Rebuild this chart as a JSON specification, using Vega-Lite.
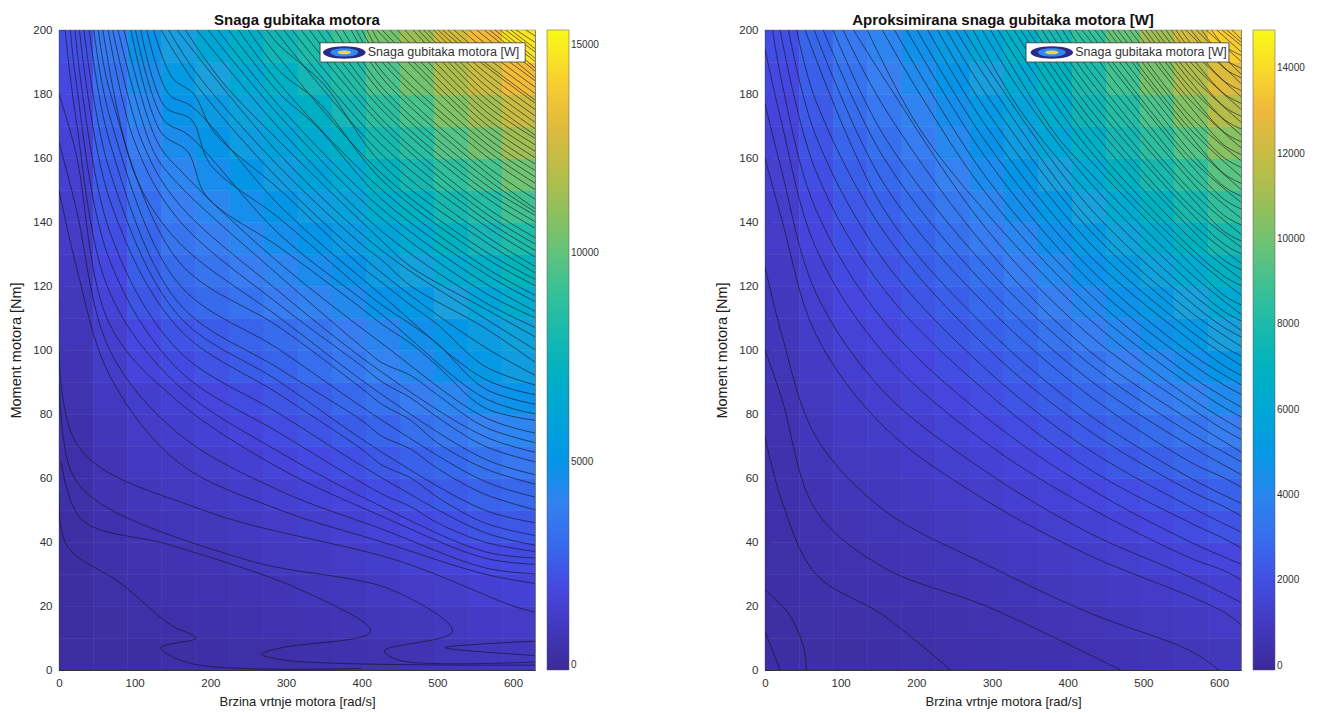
{"$schema":"https://vega.github.io/schema/vega-lite/v6.json","padding":{"left":8,"top":12,"right":0,"bottom":0},"background":"white","spacing":114,"resolve":{"scale":{"color":"independent"}},
"config":{"font":"Liberation Sans","view":{"stroke":"#333333","strokeWidth":0.8},"axis":{"grid":false,"tickSize":-5,"labelFlush":false,"tickColor":"#222222","domainColor":"#333333","labelColor":"#303030","titleColor":"#202020","labelFontSize":11.5,"titleFontWeight":"normal","labelFont":"Liberation Sans","titleFont":"Liberation Sans","zindex":1},"axisX":{"labelPadding":12,"titleFontSize":13,"titlePadding":7},"axisY":{"labelPadding":12,"titleFontSize":14.5,"titlePadding":9},"legend":{"gradientLength":640,"gradientThickness":22,"labelFontSize":10,"labelColor":"#303030","title":null,"offset":12,"gradientStrokeColor":"#555555","gradientStrokeWidth":0.5,"labelOverlap":false,"labelFont":"Liberation Sans","padding":0},"title":{"fontSize":15,"fontWeight":"bold","offset":-4,"font":"Liberation Sans","color":"#111111"}},
"datasets":{
"leftCells":[
{"x":22.5,"y":5,"v":210},{"x":22.5,"y":15,"v":230},{"x":22.5,"y":25,"v":270},{"x":22.5,"y":35,"v":310},{"x":22.5,"y":45,"v":350},{"x":22.5,"y":55,"v":410},{"x":22.5,"y":65,"v":470},{"x":22.5,"y":75,"v":540},{"x":22.5,"y":85,"v":620},{"x":22.5,"y":95,"v":710},{"x":22.5,"y":105,"v":880},{"x":22.5,"y":115,"v":990},{"x":22.5,"y":125,"v":1110},{"x":22.5,"y":135,"v":1240},{"x":22.5,"y":145,"v":1370},{"x":22.5,"y":155,"v":1510},{"x":22.5,"y":165,"v":1670},{"x":22.5,"y":175,"v":1830},{"x":22.5,"y":185,"v":2000},{"x":22.5,"y":195,"v":2170},
{"x":67.5,"y":5,"v":270},{"x":67.5,"y":15,"v":340},{"x":67.5,"y":25,"v":420},{"x":67.5,"y":35,"v":500},{"x":67.5,"y":45,"v":600},{"x":67.5,"y":55,"v":710},{"x":67.5,"y":65,"v":820},{"x":67.5,"y":75,"v":950},{"x":67.5,"y":85,"v":1080},{"x":67.5,"y":95,"v":1310},{"x":67.5,"y":105,"v":1460},{"x":67.5,"y":115,"v":1740},{"x":67.5,"y":125,"v":1930},{"x":67.5,"y":135,"v":2130},{"x":67.5,"y":145,"v":2350},{"x":67.5,"y":155,"v":2570},{"x":67.5,"y":165,"v":2800},{"x":67.5,"y":175,"v":3050},{"x":67.5,"y":185,"v":3300},{"x":67.5,"y":195,"v":3570},
{"x":112.5,"y":5,"v":310},{"x":112.5,"y":15,"v":410},{"x":112.5,"y":25,"v":530},{"x":112.5,"y":35,"v":650},{"x":112.5,"y":45,"v":790},{"x":112.5,"y":55,"v":930},{"x":112.5,"y":65,"v":1090},{"x":112.5,"y":75,"v":1260},{"x":112.5,"y":85,"v":1430},{"x":112.5,"y":95,"v":1790},{"x":112.5,"y":105,"v":1960},{"x":112.5,"y":115,"v":2370},{"x":112.5,"y":125,"v":2630},{"x":112.5,"y":135,"v":2900},{"x":112.5,"y":145,"v":3180},{"x":112.5,"y":155,"v":3470},{"x":112.5,"y":165,"v":3780},{"x":112.5,"y":175,"v":4100},{"x":112.5,"y":185,"v":4430},{"x":112.5,"y":195,"v":4770},
{"x":157.5,"y":5,"v":340},{"x":157.5,"y":15,"v":460},{"x":157.5,"y":25,"v":590},{"x":157.5,"y":35,"v":730},{"x":157.5,"y":45,"v":880},{"x":157.5,"y":55,"v":1050},{"x":157.5,"y":65,"v":1230},{"x":157.5,"y":75,"v":1420},{"x":157.5,"y":85,"v":1620},{"x":157.5,"y":95,"v":2020},{"x":157.5,"y":105,"v":2330},{"x":157.5,"y":115,"v":2790},{"x":157.5,"y":125,"v":3090},{"x":157.5,"y":135,"v":3410},{"x":157.5,"y":145,"v":3750},{"x":157.5,"y":155,"v":4090},{"x":157.5,"y":165,"v":4460},{"x":157.5,"y":175,"v":4840},{"x":157.5,"y":185,"v":5230},{"x":157.5,"y":195,"v":5640},
{"x":202.5,"y":5,"v":380},{"x":202.5,"y":15,"v":510},{"x":202.5,"y":25,"v":660},{"x":202.5,"y":35,"v":820},{"x":202.5,"y":45,"v":990},{"x":202.5,"y":55,"v":1180},{"x":202.5,"y":65,"v":1390},{"x":202.5,"y":75,"v":1610},{"x":202.5,"y":85,"v":1840},{"x":202.5,"y":95,"v":2280},{"x":202.5,"y":105,"v":2550},{"x":202.5,"y":115,"v":3060},{"x":202.5,"y":125,"v":3400},{"x":202.5,"y":135,"v":3760},{"x":202.5,"y":145,"v":4130},{"x":202.5,"y":155,"v":4520},{"x":202.5,"y":165,"v":4930},{"x":202.5,"y":175,"v":5350},{"x":202.5,"y":185,"v":5790},{"x":202.5,"y":195,"v":6240},
{"x":247.5,"y":5,"v":420},{"x":247.5,"y":15,"v":570},{"x":247.5,"y":25,"v":730},{"x":247.5,"y":35,"v":920},{"x":247.5,"y":45,"v":1110},{"x":247.5,"y":55,"v":1330},{"x":247.5,"y":65,"v":1560},{"x":247.5,"y":75,"v":1820},{"x":247.5,"y":85,"v":2080},{"x":247.5,"y":95,"v":2570},{"x":247.5,"y":105,"v":2800},{"x":247.5,"y":115,"v":3360},{"x":247.5,"y":125,"v":3740},{"x":247.5,"y":135,"v":4130},{"x":247.5,"y":145,"v":4550},{"x":247.5,"y":155,"v":4980},{"x":247.5,"y":165,"v":5440},{"x":247.5,"y":175,"v":5910},{"x":247.5,"y":185,"v":6400},{"x":247.5,"y":195,"v":6910},
{"x":292.5,"y":5,"v":470},{"x":292.5,"y":15,"v":640},{"x":292.5,"y":25,"v":820},{"x":292.5,"y":35,"v":1030},{"x":292.5,"y":45,"v":1250},{"x":292.5,"y":55,"v":1500},{"x":292.5,"y":65,"v":1760},{"x":292.5,"y":75,"v":2050},{"x":292.5,"y":85,"v":2350},{"x":292.5,"y":95,"v":2850},{"x":292.5,"y":105,"v":3110},{"x":292.5,"y":115,"v":3670},{"x":292.5,"y":125,"v":4090},{"x":292.5,"y":135,"v":4530},{"x":292.5,"y":145,"v":4990},{"x":292.5,"y":155,"v":5480},{"x":292.5,"y":165,"v":5980},{"x":292.5,"y":175,"v":6510},{"x":292.5,"y":185,"v":7060},{"x":292.5,"y":195,"v":7630},
{"x":337.5,"y":5,"v":530},{"x":337.5,"y":15,"v":710},{"x":337.5,"y":25,"v":920},{"x":337.5,"y":35,"v":1150},{"x":337.5,"y":45,"v":1400},{"x":337.5,"y":55,"v":1680},{"x":337.5,"y":65,"v":1980},{"x":337.5,"y":75,"v":2300},{"x":337.5,"y":85,"v":2650},{"x":337.5,"y":95,"v":3170},{"x":337.5,"y":105,"v":3410},{"x":337.5,"y":115,"v":4000},{"x":337.5,"y":125,"v":4460},{"x":337.5,"y":135,"v":4950},{"x":337.5,"y":145,"v":5460},{"x":337.5,"y":155,"v":6000},{"x":337.5,"y":165,"v":6560},{"x":337.5,"y":175,"v":7140},{"x":337.5,"y":185,"v":7760},{"x":337.5,"y":195,"v":8390},
{"x":382.5,"y":5,"v":600},{"x":382.5,"y":15,"v":800},{"x":382.5,"y":25,"v":1020},{"x":382.5,"y":35,"v":1280},{"x":382.5,"y":45,"v":1560},{"x":382.5,"y":55,"v":1870},{"x":382.5,"y":65,"v":2210},{"x":382.5,"y":75,"v":2580},{"x":382.5,"y":85,"v":2970},{"x":382.5,"y":95,"v":3520},{"x":382.5,"y":105,"v":3720},{"x":382.5,"y":115,"v":4330},{"x":382.5,"y":125,"v":4830},{"x":382.5,"y":135,"v":5370},{"x":382.5,"y":145,"v":5930},{"x":382.5,"y":155,"v":6520},{"x":382.5,"y":165,"v":7140},{"x":382.5,"y":175,"v":7790},{"x":382.5,"y":185,"v":8470},{"x":382.5,"y":195,"v":9170},
{"x":427.5,"y":5,"v":670},{"x":427.5,"y":15,"v":890},{"x":427.5,"y":25,"v":1140},{"x":427.5,"y":35,"v":1420},{"x":427.5,"y":45,"v":1730},{"x":427.5,"y":55,"v":2080},{"x":427.5,"y":65,"v":2460},{"x":427.5,"y":75,"v":2880},{"x":427.5,"y":85,"v":3320},{"x":427.5,"y":95,"v":3950},{"x":427.5,"y":105,"v":4160},{"x":427.5,"y":115,"v":4860},{"x":427.5,"y":125,"v":5430},{"x":427.5,"y":135,"v":6040},{"x":427.5,"y":145,"v":6690},{"x":427.5,"y":155,"v":7360},{"x":427.5,"y":165,"v":8070},{"x":427.5,"y":175,"v":8810},{"x":427.5,"y":185,"v":9590},{"x":427.5,"y":195,"v":10400},
{"x":472.5,"y":5,"v":750},{"x":472.5,"y":15,"v":990},{"x":472.5,"y":25,"v":1260},{"x":472.5,"y":35,"v":1570},{"x":472.5,"y":45,"v":1920},{"x":472.5,"y":55,"v":2310},{"x":472.5,"y":65,"v":2730},{"x":472.5,"y":75,"v":3200},{"x":472.5,"y":85,"v":3700},{"x":472.5,"y":95,"v":4240},{"x":472.5,"y":105,"v":4610},{"x":472.5,"y":115,"v":5200},{"x":472.5,"y":125,"v":5830},{"x":472.5,"y":135,"v":6490},{"x":472.5,"y":145,"v":7190},{"x":472.5,"y":155,"v":7930},{"x":472.5,"y":165,"v":8700},{"x":472.5,"y":175,"v":9510},{"x":472.5,"y":185,"v":10360},{"x":472.5,"y":195,"v":11240},
{"x":517.5,"y":5,"v":840},{"x":517.5,"y":15,"v":1100},{"x":517.5,"y":25,"v":1390},{"x":517.5,"y":35,"v":1730},{"x":517.5,"y":45,"v":2120},{"x":517.5,"y":55,"v":2550},{"x":517.5,"y":65,"v":3020},{"x":517.5,"y":75,"v":3540},{"x":517.5,"y":85,"v":4100},{"x":517.5,"y":95,"v":4700},{"x":517.5,"y":105,"v":5130},{"x":517.5,"y":115,"v":5790},{"x":517.5,"y":125,"v":6500},{"x":517.5,"y":135,"v":7250},{"x":517.5,"y":145,"v":8040},{"x":517.5,"y":155,"v":8870},{"x":517.5,"y":165,"v":9740},{"x":517.5,"y":175,"v":10660},{"x":517.5,"y":185,"v":11620},{"x":517.5,"y":195,"v":12620},
{"x":562.5,"y":5,"v":940},{"x":562.5,"y":15,"v":1210},{"x":562.5,"y":25,"v":1540},{"x":562.5,"y":35,"v":1910},{"x":562.5,"y":45,"v":2330},{"x":562.5,"y":55,"v":2810},{"x":562.5,"y":65,"v":3330},{"x":562.5,"y":75,"v":3900},{"x":562.5,"y":85,"v":4530},{"x":562.5,"y":95,"v":5200},{"x":562.5,"y":105,"v":5430},{"x":562.5,"y":115,"v":6140},{"x":562.5,"y":125,"v":6900},{"x":562.5,"y":135,"v":7700},{"x":562.5,"y":145,"v":8550},{"x":562.5,"y":155,"v":9450},{"x":562.5,"y":165,"v":10390},{"x":562.5,"y":175,"v":11380},{"x":562.5,"y":185,"v":12410},{"x":562.5,"y":195,"v":13490},
{"x":607.5,"y":5,"v":1000},{"x":607.5,"y":15,"v":1280},{"x":607.5,"y":25,"v":1620},{"x":607.5,"y":35,"v":2010},{"x":607.5,"y":45,"v":2450},{"x":607.5,"y":55,"v":2950},{"x":607.5,"y":65,"v":3500},{"x":607.5,"y":75,"v":4110},{"x":607.5,"y":85,"v":4780},{"x":607.5,"y":95,"v":5490},{"x":607.5,"y":105,"v":5890},{"x":607.5,"y":115,"v":6660},{"x":607.5,"y":125,"v":7490},{"x":607.5,"y":135,"v":8370},{"x":607.5,"y":145,"v":9310},{"x":607.5,"y":155,"v":10290},{"x":607.5,"y":165,"v":11320},{"x":607.5,"y":175,"v":12410},{"x":607.5,"y":185,"v":13550},{"x":607.5,"y":195,"v":14740}],
"rightCells":[
{"x":22.5,"y":5,"v":210},{"x":22.5,"y":15,"v":234},{"x":22.5,"y":25,"v":267},{"x":22.5,"y":35,"v":307},{"x":22.5,"y":45,"v":354},{"x":22.5,"y":55,"v":410},{"x":22.5,"y":65,"v":473},{"x":22.5,"y":75,"v":542},{"x":22.5,"y":85,"v":621},{"x":22.5,"y":95,"v":706},{"x":22.5,"y":105,"v":799},{"x":22.5,"y":115,"v":900},{"x":22.5,"y":125,"v":1008},{"x":22.5,"y":135,"v":1123},{"x":22.5,"y":145,"v":1246},{"x":22.5,"y":155,"v":1377},{"x":22.5,"y":165,"v":1515},{"x":22.5,"y":175,"v":1662},{"x":22.5,"y":185,"v":1815},{"x":22.5,"y":195,"v":1975},
{"x":67.5,"y":5,"v":234},{"x":67.5,"y":15,"v":294},{"x":67.5,"y":25,"v":362},{"x":67.5,"y":35,"v":439},{"x":67.5,"y":45,"v":523},{"x":67.5,"y":55,"v":615},{"x":67.5,"y":65,"v":715},{"x":67.5,"y":75,"v":824},{"x":67.5,"y":85,"v":940},{"x":67.5,"y":95,"v":1064},{"x":67.5,"y":105,"v":1196},{"x":67.5,"y":115,"v":1336},{"x":67.5,"y":125,"v":1485},{"x":67.5,"y":135,"v":1641},{"x":67.5,"y":145,"v":1804},{"x":67.5,"y":155,"v":1976},{"x":67.5,"y":165,"v":2156},{"x":67.5,"y":175,"v":2345},{"x":67.5,"y":185,"v":2541},{"x":67.5,"y":195,"v":2745},
{"x":112.5,"y":5,"v":258},{"x":112.5,"y":15,"v":345},{"x":112.5,"y":25,"v":440},{"x":112.5,"y":35,"v":543},{"x":112.5,"y":45,"v":656},{"x":112.5,"y":55,"v":777},{"x":112.5,"y":65,"v":907},{"x":112.5,"y":75,"v":1047},{"x":112.5,"y":85,"v":1195},{"x":112.5,"y":95,"v":1351},{"x":112.5,"y":105,"v":1517},{"x":112.5,"y":115,"v":1692},{"x":112.5,"y":125,"v":1875},{"x":112.5,"y":135,"v":2068},{"x":112.5,"y":145,"v":2269},{"x":112.5,"y":155,"v":2479},{"x":112.5,"y":165,"v":2698},{"x":112.5,"y":175,"v":2926},{"x":112.5,"y":185,"v":3163},{"x":112.5,"y":195,"v":3408},
{"x":157.5,"y":5,"v":283},{"x":157.5,"y":15,"v":381},{"x":157.5,"y":25,"v":490},{"x":157.5,"y":35,"v":607},{"x":157.5,"y":45,"v":736},{"x":157.5,"y":55,"v":875},{"x":157.5,"y":65,"v":1024},{"x":157.5,"y":75,"v":1184},{"x":157.5,"y":85,"v":1352},{"x":157.5,"y":95,"v":1532},{"x":157.5,"y":105,"v":1722},{"x":157.5,"y":115,"v":1922},{"x":157.5,"y":125,"v":2133},{"x":157.5,"y":135,"v":2352},{"x":157.5,"y":145,"v":2583},{"x":157.5,"y":155,"v":2824},{"x":157.5,"y":165,"v":3075},{"x":157.5,"y":175,"v":3337},{"x":157.5,"y":185,"v":3607},{"x":157.5,"y":195,"v":3889},
{"x":202.5,"y":5,"v":314},{"x":202.5,"y":15,"v":424},{"x":202.5,"y":25,"v":547},{"x":202.5,"y":35,"v":681},{"x":202.5,"y":45,"v":828},{"x":202.5,"y":55,"v":986},{"x":202.5,"y":65,"v":1157},{"x":202.5,"y":75,"v":1339},{"x":202.5,"y":85,"v":1533},{"x":202.5,"y":95,"v":1740},{"x":202.5,"y":105,"v":1957},{"x":202.5,"y":115,"v":2188},{"x":202.5,"y":125,"v":2430},{"x":202.5,"y":135,"v":2684},{"x":202.5,"y":145,"v":2950},{"x":202.5,"y":155,"v":3228},{"x":202.5,"y":165,"v":3518},{"x":202.5,"y":175,"v":3820},{"x":202.5,"y":185,"v":4134},{"x":202.5,"y":195,"v":4460},
{"x":247.5,"y":5,"v":350},{"x":247.5,"y":15,"v":474},{"x":247.5,"y":25,"v":612},{"x":247.5,"y":35,"v":764},{"x":247.5,"y":45,"v":929},{"x":247.5,"y":55,"v":1110},{"x":247.5,"y":65,"v":1304},{"x":247.5,"y":75,"v":1513},{"x":247.5,"y":85,"v":1736},{"x":247.5,"y":95,"v":1972},{"x":247.5,"y":105,"v":2224},{"x":247.5,"y":115,"v":2489},{"x":247.5,"y":125,"v":2769},{"x":247.5,"y":135,"v":3062},{"x":247.5,"y":145,"v":3369},{"x":247.5,"y":155,"v":3692},{"x":247.5,"y":165,"v":4027},{"x":247.5,"y":175,"v":4378},{"x":247.5,"y":185,"v":4742},{"x":247.5,"y":195,"v":5120},
{"x":292.5,"y":5,"v":393},{"x":292.5,"y":15,"v":530},{"x":292.5,"y":25,"v":685},{"x":292.5,"y":35,"v":855},{"x":292.5,"y":45,"v":1042},{"x":292.5,"y":55,"v":1246},{"x":292.5,"y":65,"v":1467},{"x":292.5,"y":75,"v":1706},{"x":292.5,"y":85,"v":1960},{"x":292.5,"y":95,"v":2232},{"x":292.5,"y":105,"v":2520},{"x":292.5,"y":115,"v":2825},{"x":292.5,"y":125,"v":3147},{"x":292.5,"y":135,"v":3486},{"x":292.5,"y":145,"v":3841},{"x":292.5,"y":155,"v":4213},{"x":292.5,"y":165,"v":4602},{"x":292.5,"y":175,"v":5009},{"x":292.5,"y":185,"v":5432},{"x":292.5,"y":195,"v":5871},
{"x":337.5,"y":5,"v":443},{"x":337.5,"y":15,"v":594},{"x":337.5,"y":25,"v":765},{"x":337.5,"y":35,"v":956},{"x":337.5,"y":45,"v":1166},{"x":337.5,"y":55,"v":1397},{"x":337.5,"y":65,"v":1647},{"x":337.5,"y":75,"v":1918},{"x":337.5,"y":85,"v":2208},{"x":337.5,"y":95,"v":2518},{"x":337.5,"y":105,"v":2848},{"x":337.5,"y":115,"v":3198},{"x":337.5,"y":125,"v":3567},{"x":337.5,"y":135,"v":3957},{"x":337.5,"y":145,"v":4366},{"x":337.5,"y":155,"v":4796},{"x":337.5,"y":165,"v":5245},{"x":337.5,"y":175,"v":5714},{"x":337.5,"y":185,"v":6204},{"x":337.5,"y":195,"v":6713},
{"x":382.5,"y":5,"v":499},{"x":382.5,"y":15,"v":664},{"x":382.5,"y":25,"v":853},{"x":382.5,"y":35,"v":1064},{"x":382.5,"y":45,"v":1300},{"x":382.5,"y":55,"v":1559},{"x":382.5,"y":65,"v":1842},{"x":382.5,"y":75,"v":2148},{"x":382.5,"y":85,"v":2476},{"x":382.5,"y":95,"v":2829},{"x":382.5,"y":105,"v":3205},{"x":382.5,"y":115,"v":3605},{"x":382.5,"y":125,"v":4028},{"x":382.5,"y":135,"v":4473},{"x":382.5,"y":145,"v":4943},{"x":382.5,"y":155,"v":5436},{"x":382.5,"y":165,"v":5953},{"x":382.5,"y":175,"v":6493},{"x":382.5,"y":185,"v":7056},{"x":382.5,"y":195,"v":7643},
{"x":427.5,"y":5,"v":560},{"x":427.5,"y":15,"v":741},{"x":427.5,"y":25,"v":949},{"x":427.5,"y":35,"v":1183},{"x":427.5,"y":45,"v":1445},{"x":427.5,"y":55,"v":1734},{"x":427.5,"y":65,"v":2051},{"x":427.5,"y":75,"v":2396},{"x":427.5,"y":85,"v":2767},{"x":427.5,"y":95,"v":3167},{"x":427.5,"y":105,"v":3593},{"x":427.5,"y":115,"v":4047},{"x":427.5,"y":125,"v":4528},{"x":427.5,"y":135,"v":5036},{"x":427.5,"y":145,"v":5573},{"x":427.5,"y":155,"v":6136},{"x":427.5,"y":165,"v":6727},{"x":427.5,"y":175,"v":7345},{"x":427.5,"y":185,"v":7990},{"x":427.5,"y":195,"v":8664},
{"x":472.5,"y":5,"v":629},{"x":472.5,"y":15,"v":824},{"x":472.5,"y":25,"v":1051},{"x":472.5,"y":35,"v":1310},{"x":472.5,"y":45,"v":1600},{"x":472.5,"y":55,"v":1923},{"x":472.5,"y":65,"v":2277},{"x":472.5,"y":75,"v":2663},{"x":472.5,"y":85,"v":3080},{"x":472.5,"y":95,"v":3530},{"x":472.5,"y":105,"v":4011},{"x":472.5,"y":115,"v":4524},{"x":472.5,"y":125,"v":5069},{"x":472.5,"y":135,"v":5646},{"x":472.5,"y":145,"v":6254},{"x":472.5,"y":155,"v":6895},{"x":472.5,"y":165,"v":7566},{"x":472.5,"y":175,"v":8271},{"x":472.5,"y":185,"v":9006},{"x":472.5,"y":195,"v":9773},
{"x":517.5,"y":5,"v":703},{"x":517.5,"y":15,"v":913},{"x":517.5,"y":25,"v":1161},{"x":517.5,"y":35,"v":1445},{"x":517.5,"y":45,"v":1766},{"x":517.5,"y":55,"v":2123},{"x":517.5,"y":65,"v":2517},{"x":517.5,"y":75,"v":2948},{"x":517.5,"y":85,"v":3415},{"x":517.5,"y":95,"v":3919},{"x":517.5,"y":105,"v":4459},{"x":517.5,"y":115,"v":5036},{"x":517.5,"y":125,"v":5651},{"x":517.5,"y":135,"v":6301},{"x":517.5,"y":145,"v":6988},{"x":517.5,"y":155,"v":7712},{"x":517.5,"y":165,"v":8472},{"x":517.5,"y":175,"v":9270},{"x":517.5,"y":185,"v":10103},{"x":517.5,"y":195,"v":10973},
{"x":562.5,"y":5,"v":784},{"x":562.5,"y":15,"v":1011},{"x":562.5,"y":25,"v":1280},{"x":562.5,"y":35,"v":1591},{"x":562.5,"y":45,"v":1943},{"x":562.5,"y":55,"v":2338},{"x":562.5,"y":65,"v":2775},{"x":562.5,"y":75,"v":3253},{"x":562.5,"y":85,"v":3774},{"x":562.5,"y":95,"v":4336},{"x":562.5,"y":105,"v":4940},{"x":562.5,"y":115,"v":5586},{"x":562.5,"y":125,"v":6274},{"x":562.5,"y":135,"v":7004},{"x":562.5,"y":145,"v":7776},{"x":562.5,"y":155,"v":8590},{"x":562.5,"y":165,"v":9446},{"x":562.5,"y":175,"v":10344},{"x":562.5,"y":185,"v":11283},{"x":562.5,"y":195,"v":12265},
{"x":607.5,"y":5,"v":871},{"x":607.5,"y":15,"v":1115},{"x":607.5,"y":25,"v":1406},{"x":607.5,"y":35,"v":1744},{"x":607.5,"y":45,"v":2131},{"x":607.5,"y":55,"v":2565},{"x":607.5,"y":65,"v":3047},{"x":607.5,"y":75,"v":3576},{"x":607.5,"y":85,"v":4153},{"x":607.5,"y":95,"v":4777},{"x":607.5,"y":105,"v":5450},{"x":607.5,"y":115,"v":6170},{"x":607.5,"y":125,"v":6938},{"x":607.5,"y":135,"v":7753},{"x":607.5,"y":145,"v":8616},{"x":607.5,"y":155,"v":9527},{"x":607.5,"y":165,"v":10485},{"x":607.5,"y":175,"v":11490},{"x":607.5,"y":185,"v":12544},{"x":607.5,"y":195,"v":13645}],
"leftLines":[
{"k":1,"x":0,"y":55},{"k":1,"x":10,"y":39},{"k":1,"x":82,"y":27},{"k":1,"x":148,"y":14},{"k":1,"x":181,"y":10},{"k":1,"x":135,"y":7},{"k":1,"x":175,"y":2},{"k":1,"x":400,"y":0.5},
{"k":2,"x":3,"y":65},{"k":2,"x":30,"y":47},{"k":2,"x":148,"y":39},{"k":2,"x":320,"y":25},{"k":2,"x":412,"y":12},{"k":2,"x":295,"y":7},{"k":2,"x":268,"y":5},{"k":2,"x":300,"y":3},{"k":2,"x":630,"y":1.5},
{"k":3,"x":0,"y":90},{"k":3,"x":16,"y":62},{"k":3,"x":55,"y":52},{"k":3,"x":254,"y":34},{"k":3,"x":440,"y":25},{"k":3,"x":520,"y":12},{"k":3,"x":430,"y":6},{"k":3,"x":450,"y":3},{"k":3,"x":630,"y":2.5},
{"k":4,"x":630,"y":9},{"k":4,"x":510,"y":7},{"k":4,"x":630,"y":4.5},
{"k":5,"x":0,"y":115},{"k":5,"x":25,"y":70},{"k":5,"x":190,"y":50},{"k":5,"x":450,"y":34},{"k":5,"x":600,"y":20},{"k":5,"x":630,"y":18},
{"k":6,"x":0,"y":150},{"k":6,"x":22,"y":127},{"k":6,"x":67,"y":92},{"k":6,"x":157,"y":65},{"k":6,"x":292,"y":50},{"k":6,"x":427,"y":40},{"k":6,"x":562,"y":30},{"k":6,"x":630,"y":27},
{"k":7,"x":0,"y":180},{"k":7,"x":22,"y":162},{"k":7,"x":67,"y":108},{"k":7,"x":157,"y":84},{"k":7,"x":292,"y":63},{"k":7,"x":427,"y":48},{"k":7,"x":562,"y":35},{"k":7,"x":630,"y":33},
{"k":8,"x":15,"y":200},{"k":8,"x":22,"y":185},{"k":8,"x":67,"y":128},{"k":8,"x":157,"y":94},{"k":8,"x":292,"y":74},{"k":8,"x":427,"y":55},{"k":8,"x":465,"y":51},{"k":8,"x":500,"y":46},{"k":8,"x":562,"y":40},{"k":8,"x":630,"y":37},
{"k":9,"x":27,"y":200},{"k":9,"x":67,"y":147},{"k":9,"x":157,"y":107},{"k":9,"x":292,"y":86},{"k":9,"x":400,"y":69},{"k":9,"x":427,"y":64},{"k":9,"x":465,"y":60},{"k":9,"x":500,"y":54},{"k":9,"x":562,"y":46},{"k":9,"x":630,"y":42},
{"k":10,"x":40,"y":200},{"k":10,"x":67,"y":165},{"k":10,"x":157,"y":115},{"k":10,"x":292,"y":94},{"k":10,"x":400,"y":78},{"k":10,"x":427,"y":73},{"k":10,"x":465,"y":69},{"k":10,"x":500,"y":63},{"k":10,"x":562,"y":55},{"k":10,"x":630,"y":50},
{"k":11,"x":52,"y":200},{"k":11,"x":67,"y":181},{"k":11,"x":157,"y":128},{"k":11,"x":292,"y":107},{"k":11,"x":400,"y":88},{"k":11,"x":427,"y":83},{"k":11,"x":465,"y":78},{"k":11,"x":500,"y":71},{"k":11,"x":562,"y":63},{"k":11,"x":630,"y":58},
{"k":12,"x":65,"y":200},{"k":12,"x":100,"y":165},{"k":12,"x":157,"y":141},{"k":12,"x":292,"y":114},{"k":12,"x":400,"y":95},{"k":12,"x":427,"y":90},{"k":12,"x":465,"y":85},{"k":12,"x":500,"y":79},{"k":12,"x":562,"y":70},{"k":12,"x":630,"y":65},
{"k":13,"x":78,"y":200},{"k":13,"x":125,"y":162},{"k":13,"x":157,"y":152},{"k":13,"x":292,"y":123},{"k":13,"x":400,"y":101},{"k":13,"x":427,"y":96},{"k":13,"x":465,"y":92},{"k":13,"x":500,"y":86},{"k":13,"x":562,"y":76},{"k":13,"x":630,"y":71},
{"k":14,"x":95,"y":200},{"k":14,"x":135,"y":168},{"k":14,"x":170,"y":162},{"k":14,"x":195,"y":148},{"k":14,"x":292,"y":132},{"k":14,"x":400,"y":113},{"k":14,"x":427,"y":108},{"k":14,"x":465,"y":102},{"k":14,"x":500,"y":95},{"k":14,"x":562,"y":82},{"k":14,"x":630,"y":78},
{"k":15,"x":108,"y":200},{"k":15,"x":140,"y":176},{"k":15,"x":175,"y":172},{"k":15,"x":200,"y":158},{"k":15,"x":292,"y":141},{"k":15,"x":400,"y":119},{"k":15,"x":427,"y":114},{"k":15,"x":465,"y":108},{"k":15,"x":500,"y":102},{"k":15,"x":562,"y":88},{"k":15,"x":630,"y":83},
{"k":16,"x":125,"y":200},{"k":16,"x":150,"y":185},{"k":16,"x":178,"y":180},{"k":16,"x":205,"y":168},{"k":16,"x":292,"y":150},{"k":16,"x":400,"y":126},{"k":16,"x":427,"y":121},{"k":16,"x":465,"y":114},{"k":16,"x":500,"y":108},{"k":16,"x":562,"y":95},{"k":16,"x":630,"y":89},
{"k":17,"x":145,"y":200},{"k":17,"x":180,"y":187},{"k":17,"x":292,"y":157},{"k":17,"x":400,"y":133},{"k":17,"x":427,"y":128},{"k":17,"x":465,"y":120},{"k":17,"x":562,"y":107},{"k":17,"x":630,"y":96},
{"k":18,"x":167,"y":200},{"k":18,"x":215,"y":184},{"k":18,"x":292,"y":165},{"k":18,"x":427,"y":134},{"k":18,"x":465,"y":126},{"k":18,"x":562,"y":113},{"k":18,"x":630,"y":104},
{"k":19,"x":197,"y":200},{"k":19,"x":292,"y":173},{"k":19,"x":427,"y":141},{"k":19,"x":562,"y":118},{"k":19,"x":630,"y":110},
{"k":20,"x":224,"y":200},{"k":20,"x":292,"y":180},{"k":20,"x":340,"y":170},{"k":20,"x":427,"y":147},{"k":20,"x":562,"y":124},{"k":20,"x":630,"y":115},
{"k":21,"x":250,"y":200},{"k":21,"x":292,"y":187},{"k":21,"x":345,"y":177},{"k":21,"x":427,"y":153},{"k":21,"x":562,"y":129},{"k":21,"x":630,"y":120},
{"k":22,"x":274,"y":200},{"k":22,"x":292,"y":195},{"k":22,"x":350,"y":183},{"k":22,"x":427,"y":158},{"k":22,"x":562,"y":134},{"k":22,"x":630,"y":124},
{"k":23,"x":297,"y":200},{"k":23,"x":427,"y":164},{"k":23,"x":562,"y":139},{"k":23,"x":630,"y":129},
{"k":24,"x":320,"y":200},{"k":24,"x":427,"y":170},{"k":24,"x":562,"y":143},{"k":24,"x":630,"y":133},
{"k":25,"x":342,"y":200},{"k":25,"x":427,"y":175},{"k":25,"x":562,"y":148},{"k":25,"x":630,"y":138},
{"k":26,"x":365,"y":200},{"k":26,"x":427,"y":180},{"k":26,"x":562,"y":152},{"k":26,"x":630,"y":142},
{"k":27,"x":386,"y":200},{"k":27,"x":427,"y":185},{"k":27,"x":562,"y":156},{"k":27,"x":630,"y":144},
{"k":28,"x":400,"y":200},{"k":28,"x":427,"y":190},{"k":28,"x":562,"y":161},{"k":28,"x":630,"y":150},
{"k":29,"x":414,"y":200},{"k":29,"x":427,"y":195},{"k":29,"x":562,"y":165},{"k":29,"x":630,"y":154},
{"k":30,"x":427,"y":200},{"k":30,"x":562,"y":169},{"k":30,"x":630,"y":158},
{"k":31,"x":447,"y":200},{"k":31,"x":562,"y":173},{"k":31,"x":630,"y":162},
{"k":32,"x":468,"y":200},{"k":32,"x":562,"y":177},{"k":32,"x":630,"y":166},
{"k":33,"x":482,"y":200},{"k":33,"x":562,"y":181},{"k":33,"x":630,"y":169},
{"k":34,"x":495,"y":200},{"k":34,"x":562,"y":185},{"k":34,"x":630,"y":173},
{"k":35,"x":507,"y":200},{"k":35,"x":562,"y":189},{"k":35,"x":630,"y":177},
{"k":36,"x":522,"y":200},{"k":36,"x":562,"y":192},{"k":36,"x":630,"y":180},
{"k":37,"x":542,"y":200},{"k":37,"x":562,"y":196},{"k":37,"x":630,"y":184},
{"k":38,"x":562,"y":200},{"k":38,"x":630,"y":187},
{"k":39,"x":576,"y":200},{"k":39,"x":630,"y":190},
{"k":40,"x":590,"y":200},{"k":40,"x":630,"y":193},
{"k":41,"x":604,"y":200},{"k":41,"x":630,"y":196},
{"k":106,"x":0,"y":165},{"k":106,"x":22,"y":145},{"k":106,"x":67,"y":100},{"k":106,"x":157,"y":74},{"k":106,"x":292,"y":56},{"k":106,"x":427,"y":44},{"k":106,"x":562,"y":32},{"k":106,"x":630,"y":30},
{"k":107,"x":8,"y":200},{"k":107,"x":22,"y":173},{"k":107,"x":67,"y":118},{"k":107,"x":157,"y":89},{"k":107,"x":292,"y":68},{"k":107,"x":427,"y":51},{"k":107,"x":562,"y":37},{"k":107,"x":630,"y":35},
{"k":108,"x":21,"y":200},{"k":108,"x":67,"y":137},{"k":108,"x":157,"y":100},{"k":108,"x":292,"y":80},{"k":108,"x":427,"y":60},{"k":108,"x":562,"y":43},{"k":108,"x":630,"y":39},
{"k":109,"x":33,"y":200},{"k":109,"x":67,"y":156},{"k":109,"x":157,"y":111},{"k":109,"x":292,"y":90},{"k":109,"x":427,"y":68},{"k":109,"x":562,"y":50},{"k":109,"x":630,"y":46},
{"k":110,"x":46,"y":200},{"k":110,"x":67,"y":173},{"k":110,"x":157,"y":121},{"k":110,"x":292,"y":100},{"k":110,"x":427,"y":78},{"k":110,"x":562,"y":59},{"k":110,"x":630,"y":54},
{"k":111,"x":58,"y":200},{"k":111,"x":100,"y":155},{"k":111,"x":157,"y":134},{"k":111,"x":292,"y":110},{"k":111,"x":427,"y":86},{"k":111,"x":562,"y":66},{"k":111,"x":630,"y":61},
{"k":112,"x":71,"y":200},{"k":112,"x":110,"y":165},{"k":112,"x":157,"y":146},{"k":112,"x":292,"y":118},{"k":112,"x":427,"y":93},{"k":112,"x":562,"y":73},{"k":112,"x":630,"y":68},
{"k":113,"x":86,"y":200},{"k":113,"x":130,"y":165},{"k":113,"x":165,"y":155},{"k":113,"x":292,"y":127},{"k":113,"x":427,"y":102},{"k":113,"x":562,"y":79},{"k":113,"x":630,"y":74},
{"k":114,"x":101,"y":200},{"k":114,"x":138,"y":172},{"k":114,"x":172,"y":167},{"k":114,"x":292,"y":136},{"k":114,"x":427,"y":111},{"k":114,"x":562,"y":85},{"k":114,"x":630,"y":80},
{"k":115,"x":116,"y":200},{"k":115,"x":145,"y":180},{"k":115,"x":176,"y":176},{"k":115,"x":292,"y":145},{"k":115,"x":427,"y":117},{"k":115,"x":562,"y":91},{"k":115,"x":630,"y":86},
{"k":116,"x":135,"y":200},{"k":116,"x":178,"y":184},{"k":116,"x":292,"y":153},{"k":116,"x":427,"y":124},{"k":116,"x":562,"y":101},{"k":116,"x":630,"y":92},
{"k":117,"x":156,"y":200},{"k":117,"x":292,"y":161},{"k":117,"x":427,"y":131},{"k":117,"x":562,"y":110},{"k":117,"x":630,"y":100},
{"k":118,"x":182,"y":200},{"k":118,"x":292,"y":169},{"k":118,"x":427,"y":137},{"k":118,"x":562,"y":115},{"k":118,"x":630,"y":107},
{"k":119,"x":210,"y":200},{"k":119,"x":292,"y":176},{"k":119,"x":427,"y":144},{"k":119,"x":562,"y":121},{"k":119,"x":630,"y":112},
{"k":120,"x":237,"y":200},{"k":120,"x":292,"y":183},{"k":120,"x":427,"y":150},{"k":120,"x":562,"y":126},{"k":120,"x":630,"y":117},
{"k":121,"x":262,"y":200},{"k":121,"x":292,"y":191},{"k":121,"x":427,"y":155},{"k":121,"x":562,"y":131},{"k":121,"x":630,"y":122},
{"k":122,"x":285,"y":200},{"k":122,"x":427,"y":161},{"k":122,"x":562,"y":136},{"k":122,"x":630,"y":126},
{"k":123,"x":308,"y":200},{"k":123,"x":427,"y":167},{"k":123,"x":562,"y":141},{"k":123,"x":630,"y":131},
{"k":124,"x":331,"y":200},{"k":124,"x":427,"y":172},{"k":124,"x":562,"y":145},{"k":124,"x":630,"y":135},
{"k":125,"x":353,"y":200},{"k":125,"x":427,"y":177},{"k":125,"x":562,"y":150},{"k":125,"x":630,"y":140},
{"k":126,"x":375,"y":200},{"k":126,"x":427,"y":182},{"k":126,"x":562,"y":154},{"k":126,"x":630,"y":143},
{"k":127,"x":393,"y":200},{"k":127,"x":427,"y":187},{"k":127,"x":562,"y":158},{"k":127,"x":630,"y":147},
{"k":128,"x":407,"y":200},{"k":128,"x":427,"y":192},{"k":128,"x":562,"y":163},{"k":128,"x":630,"y":152},
{"k":129,"x":420,"y":200},{"k":129,"x":562,"y":167},{"k":129,"x":630,"y":156},
{"k":130,"x":437,"y":200},{"k":130,"x":562,"y":171},{"k":130,"x":630,"y":160},
{"k":131,"x":457,"y":200},{"k":131,"x":562,"y":175},{"k":131,"x":630,"y":164},
{"k":132,"x":475,"y":200},{"k":132,"x":562,"y":179},{"k":132,"x":630,"y":167},
{"k":133,"x":488,"y":200},{"k":133,"x":562,"y":183},{"k":133,"x":630,"y":171},
{"k":134,"x":501,"y":200},{"k":134,"x":562,"y":187},{"k":134,"x":630,"y":175},
{"k":135,"x":514,"y":200},{"k":135,"x":562,"y":190},{"k":135,"x":630,"y":178},
{"k":136,"x":532,"y":200},{"k":136,"x":562,"y":194},{"k":136,"x":630,"y":182},
{"k":137,"x":552,"y":200},{"k":137,"x":630,"y":185},
{"k":138,"x":569,"y":200},{"k":138,"x":630,"y":188},
{"k":139,"x":583,"y":200},{"k":139,"x":630,"y":191},
{"k":140,"x":597,"y":200},{"k":140,"x":630,"y":194},
{"k":141,"x":617,"y":200},{"k":141,"x":630,"y":198}],
"rightLines":[
{"k":1,"x":0,"y":12},{"k":1,"x":20,"y":0},
{"k":2,"x":0,"y":25},{"k":2,"x":30,"y":18},{"k":2,"x":50,"y":8},{"k":2,"x":55,"y":0},
{"k":3,"x":0,"y":73},{"k":3,"x":22,"y":53},{"k":3,"x":67,"y":30},{"k":3,"x":157,"y":17},{"k":3,"x":245,"y":0},
{"k":4,"x":0,"y":100},{"k":4,"x":22,"y":85},{"k":4,"x":67,"y":50},{"k":4,"x":157,"y":32},{"k":4,"x":292,"y":20},{"k":4,"x":427,"y":5},{"k":4,"x":470,"y":0},
{"k":5,"x":0,"y":126},{"k":5,"x":22,"y":105},{"k":5,"x":67,"y":73},{"k":5,"x":157,"y":50},{"k":5,"x":292,"y":33},{"k":5,"x":427,"y":18},{"k":5,"x":562,"y":6},{"k":5,"x":600,"y":0},
{"k":6,"x":0,"y":160},{"k":6,"x":22,"y":141},{"k":6,"x":67,"y":105},{"k":6,"x":157,"y":76},{"k":6,"x":292,"y":53},{"k":6,"x":427,"y":36},{"k":6,"x":562,"y":23},{"k":6,"x":607,"y":18},{"k":6,"x":630,"y":14},
{"k":7,"x":0,"y":194},{"k":7,"x":22,"y":171},{"k":7,"x":67,"y":132},{"k":7,"x":157,"y":99},{"k":7,"x":292,"y":71},{"k":7,"x":427,"y":51},{"k":7,"x":562,"y":35},{"k":7,"x":607,"y":31},{"k":7,"x":630,"y":28},
{"k":8,"x":20,"y":200},{"k":8,"x":67,"y":156},{"k":8,"x":157,"y":119},{"k":8,"x":292,"y":87},{"k":8,"x":427,"y":63},{"k":8,"x":562,"y":46},{"k":8,"x":607,"y":41},{"k":8,"x":630,"y":38},
{"k":9,"x":42,"y":200},{"k":9,"x":67,"y":178},{"k":9,"x":157,"y":137},{"k":9,"x":292,"y":101},{"k":9,"x":427,"y":75},{"k":9,"x":562,"y":56},{"k":9,"x":607,"y":51},{"k":9,"x":630,"y":48},
{"k":10,"x":65,"y":200},{"k":10,"x":157,"y":152},{"k":10,"x":292,"y":114},{"k":10,"x":427,"y":86},{"k":10,"x":562,"y":65},{"k":10,"x":607,"y":60},{"k":10,"x":630,"y":57},
{"k":11,"x":90,"y":200},{"k":11,"x":157,"y":167},{"k":11,"x":292,"y":126},{"k":11,"x":427,"y":96},{"k":11,"x":562,"y":74},{"k":11,"x":607,"y":68},{"k":11,"x":630,"y":65},
{"k":12,"x":117,"y":200},{"k":12,"x":157,"y":185},{"k":12,"x":292,"y":138},{"k":12,"x":427,"y":105},{"k":12,"x":562,"y":82},{"k":12,"x":607,"y":75},{"k":12,"x":630,"y":72},
{"k":13,"x":155,"y":200},{"k":13,"x":202,"y":181},{"k":13,"x":292,"y":149},{"k":13,"x":427,"y":114},{"k":13,"x":562,"y":89},{"k":13,"x":607,"y":82},{"k":13,"x":630,"y":79},
{"k":14,"x":187,"y":200},{"k":14,"x":292,"y":160},{"k":14,"x":427,"y":122},{"k":14,"x":562,"y":96},{"k":14,"x":607,"y":89},{"k":14,"x":630,"y":86},
{"k":15,"x":215,"y":200},{"k":15,"x":292,"y":170},{"k":15,"x":427,"y":130},{"k":15,"x":562,"y":103},{"k":15,"x":607,"y":95},{"k":15,"x":630,"y":92},
{"k":16,"x":240,"y":200},{"k":16,"x":292,"y":180},{"k":16,"x":427,"y":138},{"k":16,"x":562,"y":109},{"k":16,"x":607,"y":101},{"k":16,"x":630,"y":98},
{"k":17,"x":263,"y":200},{"k":17,"x":292,"y":189},{"k":17,"x":427,"y":145},{"k":17,"x":562,"y":115},{"k":17,"x":607,"y":107},{"k":17,"x":630,"y":104},
{"k":18,"x":287,"y":200},{"k":18,"x":337,"y":181},{"k":18,"x":427,"y":153},{"k":18,"x":562,"y":121},{"k":18,"x":607,"y":112},{"k":18,"x":630,"y":109},
{"k":19,"x":308,"y":200},{"k":19,"x":382,"y":173},{"k":19,"x":427,"y":160},{"k":19,"x":562,"y":127},{"k":19,"x":607,"y":117},{"k":19,"x":630,"y":114},
{"k":20,"x":329,"y":200},{"k":20,"x":427,"y":166},{"k":20,"x":562,"y":132},{"k":20,"x":607,"y":123},{"k":20,"x":630,"y":120},
{"k":21,"x":347,"y":200},{"k":21,"x":427,"y":173},{"k":21,"x":562,"y":138},{"k":21,"x":607,"y":128},{"k":21,"x":630,"y":125},
{"k":22,"x":366,"y":200},{"k":22,"x":427,"y":179},{"k":22,"x":562,"y":143},{"k":22,"x":607,"y":133},{"k":22,"x":630,"y":130},
{"k":23,"x":384,"y":200},{"k":23,"x":427,"y":185},{"k":23,"x":562,"y":148},{"k":23,"x":607,"y":137},{"k":23,"x":630,"y":134},
{"k":24,"x":402,"y":200},{"k":24,"x":427,"y":191},{"k":24,"x":562,"y":153},{"k":24,"x":607,"y":142},{"k":24,"x":630,"y":139},
{"k":25,"x":419,"y":200},{"k":25,"x":562,"y":158},{"k":25,"x":607,"y":147},{"k":25,"x":630,"y":144},
{"k":26,"x":436,"y":200},{"k":26,"x":562,"y":162},{"k":26,"x":607,"y":151},{"k":26,"x":630,"y":148},
{"k":27,"x":452,"y":200},{"k":27,"x":562,"y":167},{"k":27,"x":607,"y":155},{"k":27,"x":630,"y":152},
{"k":28,"x":466,"y":200},{"k":28,"x":562,"y":171},{"k":28,"x":607,"y":160},{"k":28,"x":630,"y":157},
{"k":29,"x":482,"y":200},{"k":29,"x":562,"y":176},{"k":29,"x":607,"y":164},{"k":29,"x":630,"y":161},
{"k":30,"x":497,"y":200},{"k":30,"x":562,"y":180},{"k":30,"x":607,"y":168},{"k":30,"x":630,"y":165},
{"k":31,"x":510,"y":200},{"k":31,"x":562,"y":184},{"k":31,"x":607,"y":172},{"k":31,"x":630,"y":169},
{"k":32,"x":523,"y":200},{"k":32,"x":562,"y":188},{"k":32,"x":607,"y":176},{"k":32,"x":630,"y":173},
{"k":33,"x":537,"y":200},{"k":33,"x":562,"y":192},{"k":33,"x":607,"y":180},{"k":33,"x":630,"y":177},
{"k":34,"x":550,"y":200},{"k":34,"x":562,"y":196},{"k":34,"x":607,"y":184},{"k":34,"x":630,"y":181},
{"k":35,"x":563,"y":200},{"k":35,"x":607,"y":188},{"k":35,"x":630,"y":185},
{"k":36,"x":577,"y":200},{"k":36,"x":607,"y":191},{"k":36,"x":630,"y":188},
{"k":37,"x":590,"y":200},{"k":37,"x":607,"y":195},{"k":37,"x":630,"y":192},
{"k":38,"x":604,"y":200},{"k":38,"x":630,"y":195},
{"k":39,"x":617,"y":200},{"k":39,"x":630,"y":197},
{"k":106,"x":0,"y":177},{"k":106,"x":22,"y":156},{"k":106,"x":67,"y":118},{"k":106,"x":157,"y":87},{"k":106,"x":292,"y":62},{"k":106,"x":427,"y":43},{"k":106,"x":562,"y":29},{"k":106,"x":630,"y":21},
{"k":107,"x":10,"y":200},{"k":107,"x":22,"y":184},{"k":107,"x":67,"y":144},{"k":107,"x":157,"y":109},{"k":107,"x":292,"y":79},{"k":107,"x":427,"y":57},{"k":107,"x":562,"y":40},{"k":107,"x":630,"y":33},
{"k":108,"x":31,"y":200},{"k":108,"x":67,"y":167},{"k":108,"x":157,"y":128},{"k":108,"x":292,"y":94},{"k":108,"x":427,"y":69},{"k":108,"x":562,"y":51},{"k":108,"x":630,"y":43},
{"k":109,"x":53,"y":200},{"k":109,"x":157,"y":144},{"k":109,"x":292,"y":107},{"k":109,"x":427,"y":80},{"k":109,"x":562,"y":60},{"k":109,"x":630,"y":52},
{"k":110,"x":77,"y":200},{"k":110,"x":157,"y":160},{"k":110,"x":292,"y":120},{"k":110,"x":427,"y":91},{"k":110,"x":562,"y":70},{"k":110,"x":630,"y":61},
{"k":111,"x":103,"y":200},{"k":111,"x":157,"y":176},{"k":111,"x":292,"y":132},{"k":111,"x":427,"y":100},{"k":111,"x":562,"y":78},{"k":111,"x":630,"y":68},
{"k":112,"x":135,"y":200},{"k":112,"x":202,"y":170},{"k":112,"x":292,"y":143},{"k":112,"x":427,"y":110},{"k":112,"x":562,"y":85},{"k":112,"x":630,"y":75},
{"k":113,"x":171,"y":200},{"k":113,"x":292,"y":154},{"k":113,"x":427,"y":118},{"k":113,"x":562,"y":92},{"k":113,"x":630,"y":82},
{"k":114,"x":201,"y":200},{"k":114,"x":292,"y":165},{"k":114,"x":427,"y":126},{"k":114,"x":562,"y":99},{"k":114,"x":630,"y":89},
{"k":115,"x":228,"y":200},{"k":115,"x":292,"y":175},{"k":115,"x":427,"y":134},{"k":115,"x":562,"y":106},{"k":115,"x":630,"y":95},
{"k":116,"x":252,"y":200},{"k":116,"x":292,"y":185},{"k":116,"x":427,"y":141},{"k":116,"x":562,"y":112},{"k":116,"x":630,"y":101},
{"k":117,"x":275,"y":200},{"k":117,"x":337,"y":175},{"k":117,"x":427,"y":149},{"k":117,"x":562,"y":118},{"k":117,"x":630,"y":106},
{"k":118,"x":298,"y":200},{"k":118,"x":382,"y":168},{"k":118,"x":427,"y":156},{"k":118,"x":562,"y":124},{"k":118,"x":630,"y":111},
{"k":119,"x":318,"y":200},{"k":119,"x":427,"y":163},{"k":119,"x":562,"y":130},{"k":119,"x":630,"y":117},
{"k":120,"x":338,"y":200},{"k":120,"x":427,"y":170},{"k":120,"x":562,"y":135},{"k":120,"x":630,"y":122},
{"k":121,"x":356,"y":200},{"k":121,"x":427,"y":176},{"k":121,"x":562,"y":140},{"k":121,"x":630,"y":127},
{"k":122,"x":375,"y":200},{"k":122,"x":427,"y":182},{"k":122,"x":562,"y":145},{"k":122,"x":630,"y":132},
{"k":123,"x":393,"y":200},{"k":123,"x":427,"y":188},{"k":123,"x":562,"y":150},{"k":123,"x":630,"y":136},
{"k":124,"x":410,"y":200},{"k":124,"x":562,"y":155},{"k":124,"x":630,"y":141},
{"k":125,"x":427,"y":200},{"k":125,"x":562,"y":160},{"k":125,"x":630,"y":146},
{"k":126,"x":444,"y":200},{"k":126,"x":562,"y":165},{"k":126,"x":630,"y":150},
{"k":127,"x":459,"y":200},{"k":127,"x":562,"y":169},{"k":127,"x":630,"y":154},
{"k":128,"x":474,"y":200},{"k":128,"x":562,"y":173},{"k":128,"x":630,"y":159},
{"k":129,"x":489,"y":200},{"k":129,"x":562,"y":178},{"k":129,"x":630,"y":163},
{"k":130,"x":503,"y":200},{"k":130,"x":562,"y":182},{"k":130,"x":630,"y":167},
{"k":131,"x":516,"y":200},{"k":131,"x":562,"y":186},{"k":131,"x":630,"y":171},
{"k":132,"x":530,"y":200},{"k":132,"x":562,"y":190},{"k":132,"x":630,"y":175},
{"k":133,"x":543,"y":200},{"k":133,"x":562,"y":194},{"k":133,"x":630,"y":179},
{"k":134,"x":556,"y":200},{"k":134,"x":630,"y":183},
{"k":135,"x":570,"y":200},{"k":135,"x":630,"y":186},
{"k":136,"x":583,"y":200},{"k":136,"x":630,"y":190},
{"k":137,"x":597,"y":200},{"k":137,"x":630,"y":193},
{"k":138,"x":610,"y":200},{"k":138,"x":630,"y":196}]
},
"hconcat":[
{"width":476,"height":640,"title":"Snaga gubitaka motora","layer":[
{"data":{"name":"leftCells"},"mark":{"type":"rect","clip":true},"encoding":{"x":{"field":"x","type":"quantitative","bin":{"step":45,"extent":[-22.5,652.5]},"scale":{"domain":[0,629],"nice":false},"axis":{"title":"Brzina vrtnje motora [rad/s]","values":[0,100,200,300,400,500,600]}},"y":{"field":"y","type":"quantitative","bin":{"step":10,"extent":[-5,205]},"scale":{"domain":[0,200],"nice":false},"axis":{"title":"Moment motora [Nm]","values":[0,20,40,60,80,100,120,140,160,180,200]}},"color":{"field":"v","type":"quantitative","scale":{"domain":[0,15350],"range":["#3b2a98","#4646e0","#3a80f0","#1ea0dc","#17b5b5","#4cc38a","#a8bd50","#f0b83c","#f9fb15"]},"legend":{"values":[0,5000,10000,15000],"format":"d"}}}},
{"data":{"name":"leftCells"},"mark":{"type":"rect","clip":true},"encoding":{"x":{"field":"x","type":"quantitative","bin":{"step":45,"extent":[0,630]}},"y":{"field":"y","type":"quantitative","bin":{"step":10,"extent":[0,200]}},"color":{"field":"v","type":"quantitative","scale":{"domain":[0,15350],"range":["#3b2a98","#4646e0","#3a80f0","#1ea0dc","#17b5b5","#4cc38a","#a8bd50","#f0b83c","#f9fb15"]},"legend":{"values":[0,5000,10000,15000],"format":"d"}}}},
{"data":{"name":"leftLines"},"transform":[{"window":[{"op":"row_number","as":"i"}]}],"mark":{"type":"line","clip":true,"color":"#101018","strokeWidth":0.7,"opacity":0.85,"interpolate":"catmull-rom"},"encoding":{"x":{"field":"x","type":"quantitative"},"y":{"field":"y","type":"quantitative"},"detail":{"field":"k"},"order":{"field":"i"}}},
{"data":{"values":[{"x":345,"x2":616,"y":196,"y2":190}]},"mark":{"type":"rect","fill":"white","stroke":"#222222","strokeWidth":0.7},"encoding":{"x":{"field":"x","type":"quantitative"},"x2":{"field":"x2"},"y":{"field":"y","type":"quantitative"},"y2":{"field":"y2"}}},
{"data":{"values":[{"x":377,"y":193}]},"mark":{"type":"point","filled":true,"opacity":1,"fill":"#2a2a8a","size":625,"shape":"M-1.7,0A1.7,0.5,0,1,0,1.7,0A1.7,0.5,0,1,0,-1.7,0Z"},"encoding":{"x":{"field":"x","type":"quantitative"},"y":{"field":"y","type":"quantitative"}}},
{"data":{"values":[{"x":377,"y":193}]},"mark":{"type":"point","filled":true,"opacity":1,"fill":"#2f8be8","size":270,"shape":"M-1.7,0A1.7,0.5,0,1,0,1.7,0A1.7,0.5,0,1,0,-1.7,0Z"},"encoding":{"x":{"field":"x","type":"quantitative"},"y":{"field":"y","type":"quantitative"}}},
{"data":{"values":[{"x":377,"y":193}]},"mark":{"type":"point","filled":true,"opacity":1,"fill":"#e8d84a","size":60,"shape":"M-1.7,0A1.7,0.5,0,1,0,1.7,0A1.7,0.5,0,1,0,-1.7,0Z"},"encoding":{"x":{"field":"x","type":"quantitative"},"y":{"field":"y","type":"quantitative"}}},
{"data":{"values":[{"x":408,"y":193,"t":"Snaga gubitaka motora [W]"}]},"mark":{"type":"text","align":"left","baseline":"middle","fontSize":12.5,"color":"#333333"},"encoding":{"x":{"field":"x","type":"quantitative"},"y":{"field":"y","type":"quantitative"},"text":{"field":"t"}}}
]},
{"width":476,"height":640,"title":"Aproksimirana snaga gubitaka motora [W]","layer":[
{"data":{"name":"rightCells"},"mark":{"type":"rect","clip":true},"encoding":{"x":{"field":"x","type":"quantitative","bin":{"step":45,"extent":[-22.5,652.5]},"scale":{"domain":[0,629],"nice":false},"axis":{"title":"Brzina vrtnje motora [rad/s]","values":[0,100,200,300,400,500,600]}},"y":{"field":"y","type":"quantitative","bin":{"step":10,"extent":[-5,205]},"scale":{"domain":[0,200],"nice":false},"axis":{"title":"Moment motora [Nm]","values":[0,20,40,60,80,100,120,140,160,180,200]}},"color":{"field":"v","type":"quantitative","scale":{"domain":[-100,14900],"range":["#3b2a98","#4646e0","#3a80f0","#1ea0dc","#17b5b5","#4cc38a","#a8bd50","#f0b83c","#f9fb15"]},"legend":{"values":[0,2000,4000,6000,8000,10000,12000,14000],"format":"d"}}}},
{"data":{"name":"rightCells"},"mark":{"type":"rect","clip":true},"encoding":{"x":{"field":"x","type":"quantitative","bin":{"step":45,"extent":[0,630]}},"y":{"field":"y","type":"quantitative","bin":{"step":10,"extent":[0,200]}},"color":{"field":"v","type":"quantitative","scale":{"domain":[-100,14900],"range":["#3b2a98","#4646e0","#3a80f0","#1ea0dc","#17b5b5","#4cc38a","#a8bd50","#f0b83c","#f9fb15"]},"legend":{"values":[0,2000,4000,6000,8000,10000,12000,14000],"format":"d"}}}},
{"data":{"name":"rightLines"},"transform":[{"window":[{"op":"row_number","as":"i"}]}],"mark":{"type":"line","clip":true,"color":"#101018","strokeWidth":0.7,"opacity":0.85,"interpolate":"catmull-rom"},"encoding":{"x":{"field":"x","type":"quantitative"},"y":{"field":"y","type":"quantitative"},"detail":{"field":"k"},"order":{"field":"i"}}},
{"data":{"values":[{"x":345,"x2":613,"y":196,"y2":190}]},"mark":{"type":"rect","fill":"white","stroke":"#222222","strokeWidth":0.7},"encoding":{"x":{"field":"x","type":"quantitative"},"x2":{"field":"x2"},"y":{"field":"y","type":"quantitative"},"y2":{"field":"y2"}}},
{"data":{"values":[{"x":379,"y":193}]},"mark":{"type":"point","filled":true,"opacity":1,"fill":"#2a2a8a","size":625,"shape":"M-1.7,0A1.7,0.5,0,1,0,1.7,0A1.7,0.5,0,1,0,-1.7,0Z"},"encoding":{"x":{"field":"x","type":"quantitative"},"y":{"field":"y","type":"quantitative"}}},
{"data":{"values":[{"x":379,"y":193}]},"mark":{"type":"point","filled":true,"opacity":1,"fill":"#2f8be8","size":270,"shape":"M-1.7,0A1.7,0.5,0,1,0,1.7,0A1.7,0.5,0,1,0,-1.7,0Z"},"encoding":{"x":{"field":"x","type":"quantitative"},"y":{"field":"y","type":"quantitative"}}},
{"data":{"values":[{"x":379,"y":193}]},"mark":{"type":"point","filled":true,"opacity":1,"fill":"#e8d84a","size":60,"shape":"M-1.7,0A1.7,0.5,0,1,0,1.7,0A1.7,0.5,0,1,0,-1.7,0Z"},"encoding":{"x":{"field":"x","type":"quantitative"},"y":{"field":"y","type":"quantitative"}}},
{"data":{"values":[{"x":410,"y":193,"t":"Snaga gubitaka motora [W]"}]},"mark":{"type":"text","align":"left","baseline":"middle","fontSize":12.5,"color":"#333333"},"encoding":{"x":{"field":"x","type":"quantitative"},"y":{"field":"y","type":"quantitative"},"text":{"field":"t"}}}
]}
]}
